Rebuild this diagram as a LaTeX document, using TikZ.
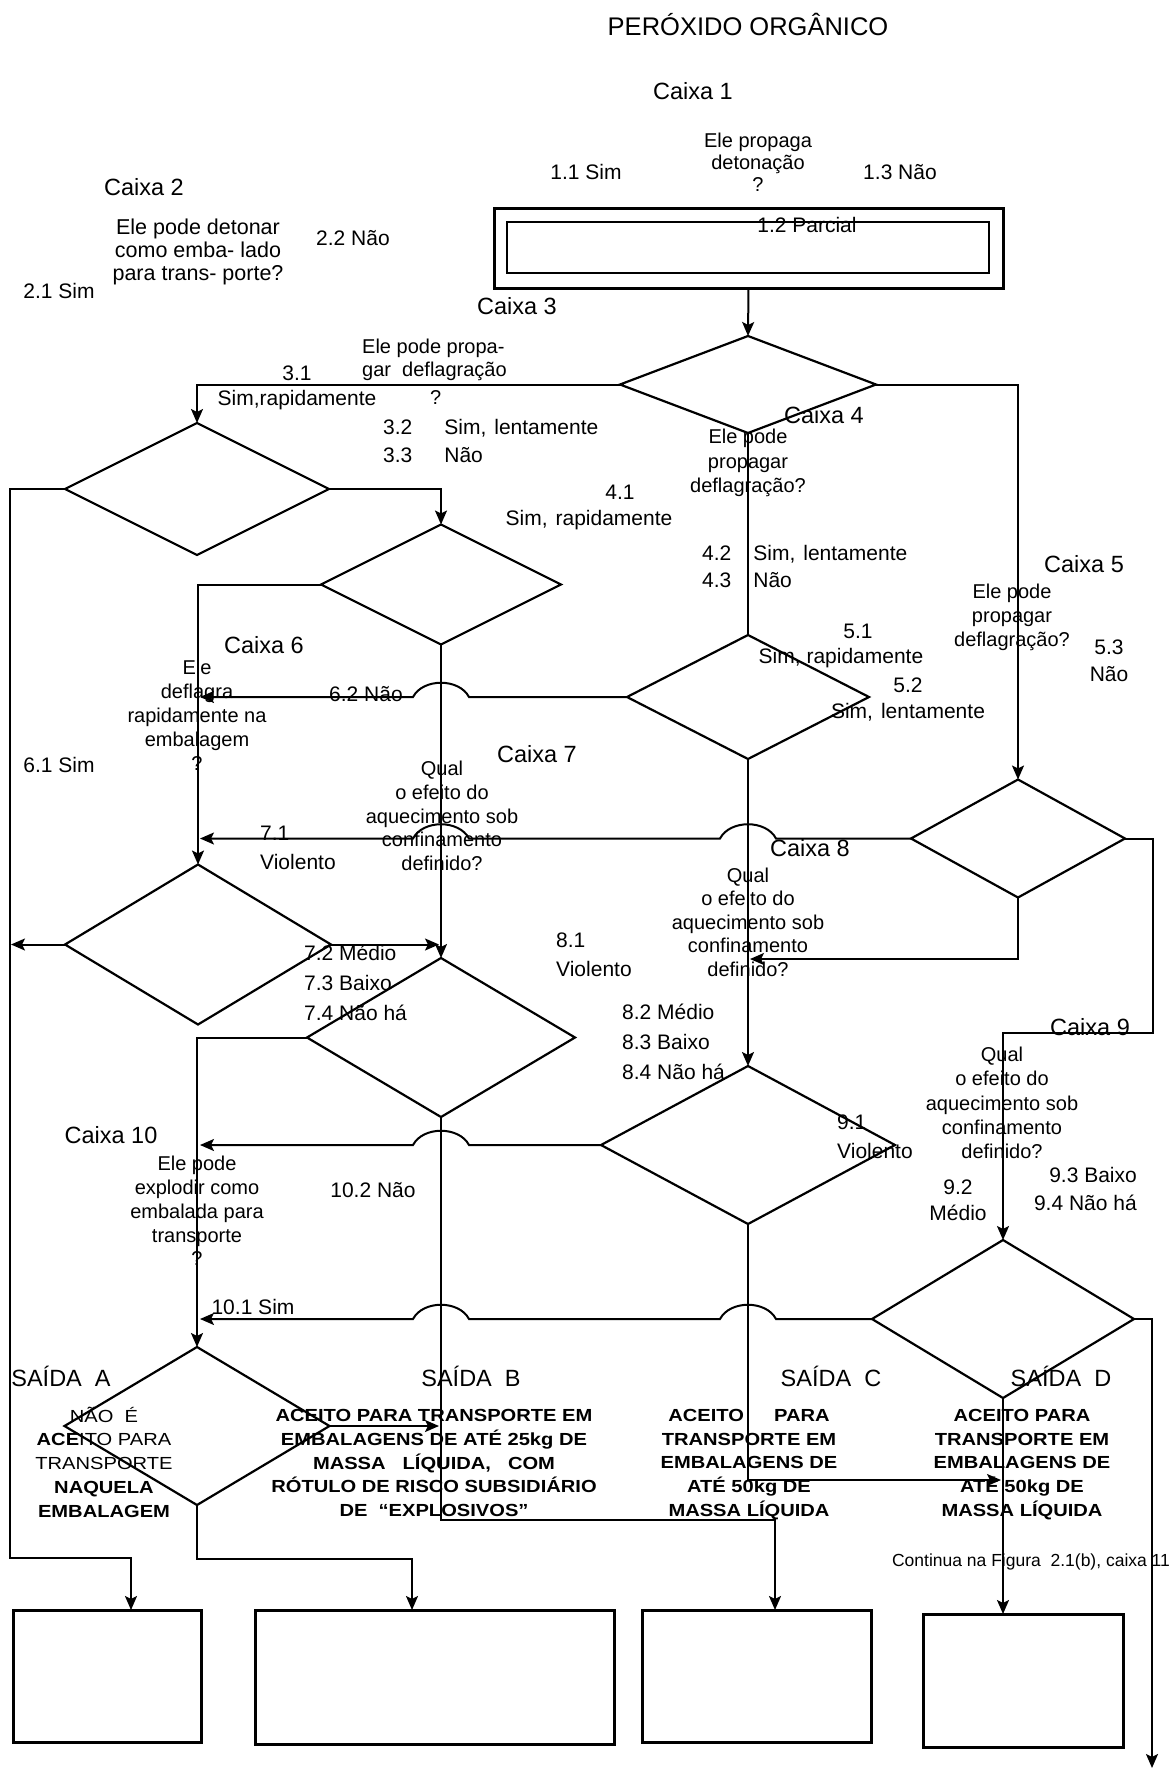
\documentclass[tikz,border=0pt]{standalone}
\usepackage{fontspec}
\setmainfont{Liberation Sans}
\newfontfamily\bsans[FakeStretch=1.15]{Liberation Sans}
\usetikzlibrary{shapes.geometric,arrows.meta}
\tikzset{
  dia/.style={shape=diamond, draw, line width=2.2pt, inner sep=0pt, outer sep=0pt},
  conn/.style={line width=2pt},
  arr/.style={conn, -{Stealth[length=14pt,width=12pt,inset=3pt]}},
  box/.style={draw, line width=3pt, inner sep=0pt, outer sep=0pt},
  lbl/.style={font=\fontsize{21}{25}\selectfont, inner sep=0pt},
  cx/.style={font=\fontsize{23.5}{28}\selectfont, inner sep=0pt},
  qst/.style={font=\fontsize{20}{23.8}\selectfont, align=center, inner sep=0pt},
  outn/.style={font=\bsans\fontsize{17.5}{23.7}\selectfont, align=center, inner sep=0pt},
  outb/.style={font=\bsans\bfseries\fontsize{17.5}{23.9}\selectfont, align=center, inner sep=0pt}
}
\begin{document}
\begin{tikzpicture}[x=1pt,y=-1pt]
\fill[white] (0,0) rectangle (1174,1771);
\useasboundingbox (0,0) rectangle (1174,1771);

% ---------- boxes ----------
\node[box, minimum width=509pt, minimum height=79pt] (b1) at (748.5,248.5) {};
\node[draw, line width=2.2pt, inner sep=0pt, outer sep=0pt, minimum width=482pt, minimum height=51pt] (b1i) at (748,247.5) {};

\node[box, minimum width=188pt, minimum height=132pt] (bA) at (107,1676) {};
\node[box, minimum width=359pt, minimum height=134pt] (bB) at (434.5,1677) {};
\node[box, minimum width=229pt, minimum height=132pt] (bC) at (756.5,1676) {};
\node[box, minimum width=200pt, minimum height=133pt] (bD) at (1023,1680.5) {};

% ---------- diamonds ----------
\node[dia, minimum width=256pt, minimum height=97pt]  (d3)  at (748,384.5) {};
\node[dia, minimum width=264pt, minimum height=132pt] (d2)  at (197,489) {};
\node[dia, minimum width=240pt, minimum height=120pt] (dA)  at (441,584.5) {};
\node[dia, minimum width=242pt, minimum height=124pt] (d4)  at (748,697) {};
\node[dia, minimum width=214pt, minimum height=118pt] (d5)  at (1018,838.5) {};
\node[dia, minimum width=266pt, minimum height=160pt] (d6)  at (198,944.5) {};
\node[dia, minimum width=268pt, minimum height=159pt] (d7)  at (441,1037.5) {};
\node[dia, minimum width=294pt, minimum height=158pt] (d8)  at (748,1145) {};
\node[dia, minimum width=262pt, minimum height=158pt] (d9)  at (1003,1319) {};
\node[dia, minimum width=265pt, minimum height=158pt] (d10) at (197,1426) {};

% ---------- free ends ----------
\coordinate (aA) at (131,1610);
\coordinate (aB) at (412,1610);
\coordinate (aC) at (775,1610);
\coordinate (aD) at (1003,1614);
\coordinate (aE) at (1152,1768);

% ---------- connectors ----------
\draw[arr] (b1.south) -- (d3.north);
\draw[arr] (d3.west) -| (d2.north);
\draw[arr] (d3.east) -| (d5.north);
\draw[conn] (d3.south) -- (d4.north);
\draw[arr] (d2.west) -| (10,1558) -| (aA);
\draw[arr] (d2.east) -| (dA.north);
\draw[arr] (dA.west) -| (d6.north);
\draw[arr] (dA.south) -- (d7.north);
\draw[arr] (d4.west) -- (469,697) .. controls (459,678) and (423,678) .. (413,697) -- (200,697);
\draw[arr] (d4.south) -- (d8.north);
\draw[arr] (d5.west) -- (776,838.5) .. controls (766,819.5) and (730,819.5) .. (720,838.5)
   -- (469,838.5) .. controls (459,819.5) and (423,819.5) .. (413,838.5) -- (200,838.5);
\draw[arr] (d5.south) |- (750,959);
\draw[arr] (d5.east) -| (1153,1033) -| (d9.north);
\draw[arr] (d6.west) -- (11,944.5);
\draw[arr] (d6.east) -- (439,944.5);
\draw[arr] (d7.west) -| (d10.north);
\draw[arr] (d7.south) |- (775,1520) -- (aC);
\draw[arr] (d8.west) -- (469,1145) .. controls (459,1126) and (423,1126) .. (413,1145) -- (200,1145);
\draw[arr] (d8.south) |- (1001,1480);
\draw[arr] (d9.west) -- (776,1319) .. controls (766,1300) and (730,1300) .. (720,1319)
   -- (469,1319) .. controls (459,1300) and (423,1300) .. (413,1319) -- (200,1319);
\draw[arr] (d9.east) -| (aE);
\draw[arr] (d9.south) -- (aD);
\draw[arr] (d10.east) -- (439,1426);
\draw[arr] (d10.south) -- (197,1559) -| (aB);

% ---------- title and box names ----------
\node[font=\fontsize{25.5}{30}\selectfont, inner sep=0pt] (title) at (748,24) {PERÓXIDO ORGÂNICO};
\node[cx] (c1) at (693,91) {Caixa 1};
\node[cx] (c2) at (144,187) {Caixa 2};
\node[cx] (c3) at (517,306) {Caixa 3};
\node[cx] (c4) at (824,415) {Caixa 4};
\node[cx] (c5) at (1084,564) {Caixa 5};
\node[cx] (c6) at (264,645) {Caixa 6};
\node[cx] (c7) at (537,754) {Caixa 7};
\node[cx] (c8) at (810,848) {Caixa 8};
\node[cx] (c9) at (1090,1027) {Caixa 9};
\node[cx] (c10) at (111,1135) {Caixa 10};

% ---------- questions ----------
\node[qst, font=\fontsize{20}{22}\selectfont] (q1) at (758,162) {Ele propaga\\detonação\\?};
\node[qst, font=\fontsize{21.5}{23}\selectfont] (q2) at (198,252) {Ele pode detonar\\como emba- lado\\para trans- porte?};
\node[qst, font=\fontsize{20}{23}\selectfont, align=left, anchor=west] (q3) at (362,372) {Ele pode propa-\\gar\ \ deflagração\\[5pt]\hspace*{68pt}?};
\node[qst, font=\fontsize{20}{24.5}\selectfont] (q4) at (748,463) {Ele pode\\propagar\\deflagração?};
\node[qst, font=\fontsize{20}{24}\selectfont] (q5) at (1012,617) {Ele pode\\propagar\\deflagração?};
\node[qst, font=\fontsize{20}{24}\selectfont] (q6) at (197,715) {Ele\\deflagra\\rapidamente na\\embalagem\\?};
\node[qst] (q7) at (442,816) {Qual\\o efeito do\\aquecimento sob\\confinamento\\definido?};
\node[qst, font=\fontsize{20}{23.5}\selectfont] (q8) at (748,922) {Qual\\o efeito do\\aquecimento sob\\confinamento\\definido?};
\node[qst, font=\fontsize{20}{24.2}\selectfont] (q9) at (1002,1103) {Qual\\o efeito do\\aquecimento sob\\confinamento\\definido?};
\node[qst] (q10) at (197,1211) {Ele pode\\explodir como\\embalada para\\transporte\\?};

% ---------- answer labels ----------
\node[lbl] (l11) at (586,172) {1.1 Sim};
\node[lbl] (l13) at (900,172) {1.3 Não};
\node[lbl] (l12) at (807,225) {1.2 Parcial};
\node[lbl] (l22) at (353,238) {2.2 Não};
\node[lbl] (l21) at (59,291) {2.1 Sim};
\node[lbl, align=center] (l31) at (297,388) {3.1\\Sim,rapidamente};
\node[lbl, font=\fontsize{21}{28}\selectfont, align=left, anchor=west] (l32) at (383,441) {3.2\hspace{32pt}Sim,\hspace{8pt}lentamente\\3.3\hspace{32pt}Não};
\node[lbl] (l41) at (620,492) {4.1};
\node[lbl] (l41b) at (589,520) {Sim,\hspace{8pt}rapidamente};
\node[lbl, font=\fontsize{21}{27}\selectfont, align=left, anchor=west] (l42) at (702,566.5) {4.2\hspace{22pt}Sim,\hspace{8pt}lentamente\\4.3\hspace{22pt}Não};
\node[lbl] (l51) at (858,631) {5.1};
\node[lbl] (l51b) at (841,658) {Sim, rapidamente};
\node[lbl, font=\fontsize{21}{26}\selectfont, align=center] (l52) at (908,700) {5.2\\Sim,\hspace{8pt}lentamente};
\node[lbl, font=\fontsize{21}{27}\selectfont, align=center] (l53) at (1109,660.5) {5.3\\Não};
\node[lbl] (l62) at (366,694) {6.2 Não};
\node[lbl] (l61) at (59,765) {6.1 Sim};
\node[lbl, font=\fontsize{21}{29}\selectfont, align=left, anchor=west] (l71) at (260,847.5) {7.1\\Violento};
\node[lbl, font=\fontsize{21}{30}\selectfont, align=left, anchor=west] (l72) at (304,983) {7.2 Médio\\7.3 Baixo\\7.4 Não há};
\node[lbl, font=\fontsize{21}{29}\selectfont, align=left, anchor=west] (l81) at (556,954.5) {8.1\\Violento};
\node[lbl, font=\fontsize{21}{30}\selectfont, align=left, anchor=west] (l82) at (622,1042) {8.2 Médio\\8.3 Baixo\\8.4 Não há};
\node[lbl, font=\fontsize{21}{29}\selectfont, align=left, anchor=west] (l91) at (837,1136.5) {9.1\\Violento};
\node[lbl, font=\fontsize{21}{26}\selectfont, align=center] (l92) at (958,1200) {9.2\\Médio};
\node[lbl, font=\fontsize{21}{28}\selectfont, align=right, anchor=east] (l93) at (1137,1189) {9.3 Baixo\\9.4 Não há};
\node[lbl] (l102) at (373,1190) {10.2 Não};
\node[lbl] (l101) at (253,1307) {10.1 Sim};

% ---------- exits ----------
\node[cx] (sA) at (61,1376) {SAÍDA\ \ A};
\node[cx] (sB) at (471,1376) {SAÍDA\ \ B};
\node[cx] (sC) at (831,1376) {SAÍDA\ \ C};
\node[cx] (sD) at (1061,1376) {SAÍDA\ \ D};

\node[outn] (tA) at (104,1462) {NÃO\ \ É\\{\bfseries ACE}ITO PARA\\TRANSPORTE\\{\bfseries NAQUELA}\\{\bfseries EMBALAGEM}};
\node[outb] (tB) at (434,1463) {ACEITO PARA TRANSPORTE EM\\EMBALAGENS DE ATÉ 25kg DE\\MASSA\hspace{17pt}LÍQUIDA,\hspace{17pt}COM\\RÓTULO DE RISCO SUBSIDIÁRIO\\DE\ \ “EXPLOSIVOS”};
\node[outb] (tC) at (749,1464.5) {ACEITO\hspace{30pt}PARA\\TRANSPORTE EM\\EMBALAGENS DE\\ATÉ 50kg DE\\MASSA LÍQUIDA};
\node[outb] (tD) at (1022,1464.5) {ACEITO PARA\\TRANSPORTE EM\\EMBALAGENS DE\\ATÉ 50kg DE\\MASSA LÍQUIDA};

\node[font=\fontsize{17.5}{20}\selectfont, inner sep=0pt] (cont) at (1031,1562) {Continua na Figura\ \ 2.1(b), caixa 11};
\end{tikzpicture}
\end{document}
